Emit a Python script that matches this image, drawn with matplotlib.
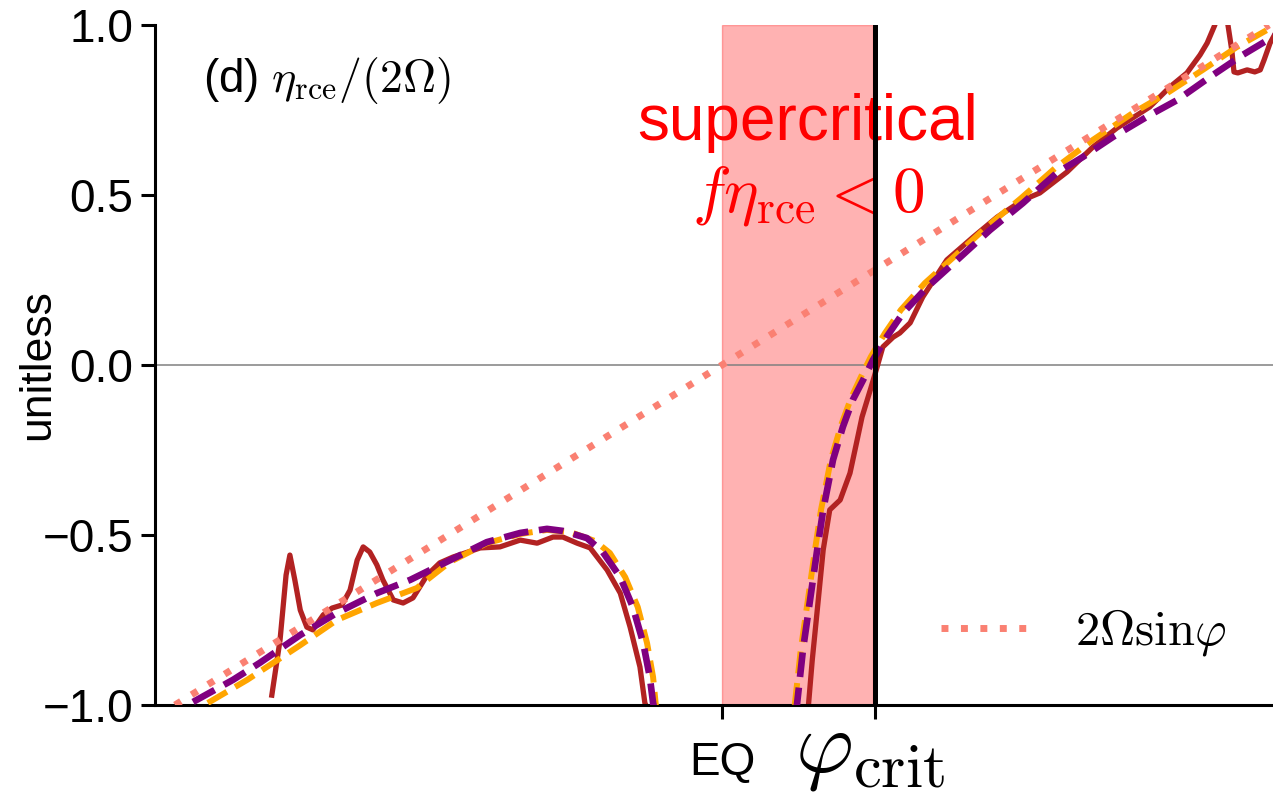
"""Panel (d): eta_rce / (2 Omega) as a function of sin(latitude)."""

import numpy as np
import matplotlib.pyplot as plt
import matplotlib.transforms as mtransforms

plt.rcParams["font.family"] = ["Liberation Sans", "DejaVu Sans"]
plt.rcParams["mathtext.fontset"] = "cm"

# critical latitude (in sin(phi))
phi_crit = 0.28

# simulated eta_rce / (2 Omega), southern and northern branch
sim_s_x = [-0.823, -0.808, -0.797, -0.790, -0.781, -0.771, -0.759, -0.748, -0.729,
           -0.713, -0.695, -0.680, -0.667, -0.656, -0.644, -0.631, -0.620, -0.601,
           -0.583, -0.565, -0.539, -0.516, -0.492, -0.442, -0.406, -0.369, -0.338,
           -0.309, -0.291, -0.265, -0.241, -0.210, -0.186, -0.168, -0.150, -0.141,
           -0.135]
sim_s_y = [-0.971, -0.809, -0.618, -0.559, -0.632, -0.721, -0.771, -0.779, -0.735,
           -0.715, -0.706, -0.662, -0.574, -0.535, -0.550, -0.588, -0.632, -0.691,
           -0.700, -0.685, -0.618, -0.582, -0.565, -0.538, -0.535, -0.515, -0.524,
           -0.506, -0.506, -0.524, -0.538, -0.603, -0.671, -0.771, -0.888, -0.994,
           -1.015]
sim_n_x = [0.157, 0.165, 0.176, 0.185, 0.197, 0.216, 0.234, 0.247, 0.256, 0.271,
           0.283, 0.294, 0.313, 0.325, 0.344, 0.367, 0.411, 0.459, 0.503, 0.550,
           0.581, 0.631, 0.678, 0.722, 0.782, 0.819, 0.850, 0.874, 0.887, 0.901,
           0.914, 0.925, 0.932, 0.936, 0.943, 0.960, 0.974, 0.984, 0.991, 1.002,
           1.020, 1.038]
sim_n_y = [-1.021, -0.868, -0.691, -0.544, -0.426, -0.397, -0.318, -0.221, -0.153,
           -0.074, -0.009, 0.053, 0.082, 0.094, 0.124, 0.200, 0.309, 0.376, 0.435,
           0.485, 0.506, 0.568, 0.641, 0.697, 0.759, 0.818, 0.859, 0.912, 0.947,
           1.000, 1.088, 1.000, 0.926, 0.862, 0.859, 0.868, 0.862, 0.868, 0.897,
           0.947, 1.000, 1.044]

# theory, first estimate (orange)
th1_s_x = [-0.940, -0.868, -0.771, -0.704, -0.631, -0.558, -0.521, -0.497, -0.430,
           -0.369, -0.320, -0.278, -0.232, -0.205, -0.177, -0.154, -0.137, -0.126,
           -0.121, -0.119]
th1_s_y = [-0.994, -0.926, -0.824, -0.750, -0.700, -0.656, -0.609, -0.579, -0.524,
           -0.497, -0.485, -0.491, -0.518, -0.553, -0.624, -0.712, -0.818, -0.918,
           -1.000, -1.020]
th1_n_x = [0.133, 0.144, 0.157, 0.170, 0.181, 0.199, 0.218, 0.236, 0.254, 0.272,
           0.298, 0.327, 0.371, 0.426, 0.486, 0.547, 0.609, 0.678, 0.751, 0.814,
           0.879, 0.941, 0.996, 1.029]
th1_n_y = [-1.000, -0.838, -0.691, -0.544, -0.426, -0.279, -0.176, -0.097, -0.035,
           0.024, 0.094, 0.162, 0.241, 0.321, 0.409, 0.491, 0.579, 0.662, 0.741,
           0.800, 0.868, 0.935, 0.985, 1.015]

# theory, full expression (purple)
th2_s_x = [-0.967, -0.894, -0.845, -0.771, -0.704, -0.631, -0.570, -0.497, -0.430,
           -0.369, -0.320, -0.291, -0.247, -0.218, -0.186, -0.163, -0.144, -0.132,
           -0.126, -0.122]
th2_s_y = [-0.991, -0.926, -0.876, -0.794, -0.729, -0.671, -0.632, -0.574, -0.521,
           -0.494, -0.482, -0.488, -0.509, -0.550, -0.624, -0.712, -0.818, -0.918,
           -0.994, -1.021]
th2_n_x = [0.133, 0.137, 0.148, 0.161, 0.174, 0.185, 0.203, 0.221, 0.239, 0.258,
           0.276, 0.302, 0.331, 0.375, 0.430, 0.490, 0.550, 0.612, 0.660, 0.715,
           0.782, 0.832, 0.892, 0.952, 1.007, 1.038]
th2_n_y = [-1.020, -1.000, -0.838, -0.691, -0.544, -0.426, -0.279, -0.182, -0.103,
           -0.044, 0.015, 0.085, 0.153, 0.229, 0.309, 0.397, 0.476, 0.565, 0.612,
           0.671, 0.735, 0.779, 0.847, 0.912, 0.965, 0.994]

# 2 Omega sin(phi), normalised
cor_x = [-1.0, 1.0]
cor_y = [-1.0, 1.0]

fig = plt.figure(figsize=(12.73, 7.93), dpi=100)
ax = fig.add_axes([155 / 1273, 88 / 793, 1134 / 1273, 680 / 793])

xlim = 1.0366
ax.set_xlim(-xlim, xlim)
ax.set_ylim(-1, 1)

ax.axvspan(0, phi_crit - 0.004, color="red", alpha=0.3, zorder=0)
ax.axhline(0, color="gray", lw=1.1, zorder=1)

ax.plot(sim_s_x, sim_s_y, color="firebrick", lw=3.8, zorder=2)
ax.plot(sim_n_x, sim_n_y, color="firebrick", lw=3.8, zorder=2)
ax.plot(th1_s_x, th1_s_y, color="orange", lw=4.3, ls="--", zorder=3)
ax.plot(th1_n_x, th1_n_y, color="orange", lw=4.3, ls="--", zorder=3)
ax.plot(th2_s_x, th2_s_y, color="purple", lw=4.8, ls="--", zorder=4)
ax.plot(th2_n_x, th2_n_y, color="purple", lw=4.8, ls="--", zorder=4)
ax.plot(cor_x, cor_y, color="salmon", lw=5, ls=(0, (1, 1.8)), zorder=5,
        label=r"$2\Omega\mathrm{sin}\varphi$")

ax.axvline(phi_crit, color="k", lw=3.6, zorder=6)

ax.text(0.157, 0.662, "supercritical", color="red", fontsize=46,
        ha="center", va="baseline")
ax.text(0.157, 0.45, r"$f\eta_{\rm rce} < 0$", color="red", fontsize=47,
        ha="center", va="baseline")
ax.text(0.042, 0.919, r"(d) $\eta_{\rm rce}/(2\Omega)$", fontsize=33,
        transform=ax.transAxes, va="center")

ax.legend(loc="center left", bbox_to_anchor=(0.693, 0.106), frameon=False,
          fontsize=35, handlelength=2.0, handletextpad=0.75,
          borderpad=0, borderaxespad=0)

# spines and ticks
for side in ["top", "right"]:
    ax.spines[side].set_visible(False)
for side in ["left", "bottom"]:
    ax.spines[side].set_linewidth(2.2)

ax.set_yticks([-1, -0.5, 0, 0.5, 1])
ax.set_yticklabels(["\u22121.0", "\u22120.5", "0.0", "0.5", "1.0"])
ax.tick_params(axis="both", length=10, width=2.2, labelsize=33)
ax.tick_params(axis="y", pad=5.5)
ax.tick_params(axis="x", pad=16)

# EQ as a normal tick label, phi_crit label drawn larger below its tick
ax.set_xticks([0, phi_crit])
ax.set_xticklabels(["EQ", ""])
trans = mtransforms.blended_transform_factory(ax.transData, ax.transAxes)
ax.text(phi_crit - 0.01, -0.006, r"$\varphi_{\rm crit}$", fontsize=64,
        transform=trans, ha="center", va="top", clip_on=False)

ax.set_ylabel("unitless", fontsize=32)
ax.yaxis.set_label_coords(-0.0855, 0.5)

plt.savefig("out.png", dpi=100)
